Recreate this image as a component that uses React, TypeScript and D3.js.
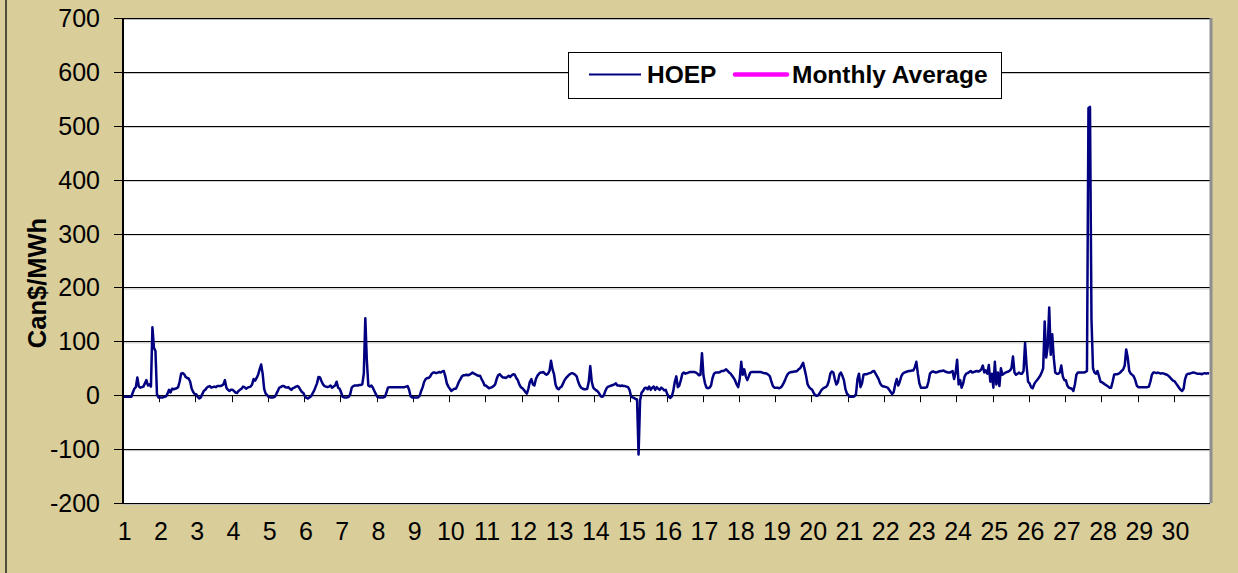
import React from "react";
import * as d3 from "d3";

// hourly HOEP, Can$/MWh, one array per day (24 hours each)
const hoepDay01 = [-3, -3, -3, -3, -3, -3, 5, 12, 15, 33, 16, 14, 15, 16, 22, 28, 18, 20, 16, 126, 88, 82, 2, -4];
const hoepDay02 = [-4, -4, -4, -3, -2, 3, 10, 5, 12, 11, 12, 13, 15, 25, 40, 41, 39, 34, 32, 31, 25, 12, 6, 2];
const hoepDay03 = [2, -3, -6, -4, 2, 8, 10, 14, 16, 17, 14, 15, 16, 15, 17, 17, 17, 18, 20, 28, 14, 10, 8, 10];
const hoepDay04 = [10, 8, 5, 4, 8, 10, 12, 16, 15, 12, 14, 15, 16, 20, 30, 27, 32, 38, 48, 57, 40, 12, 3, 0];
const hoepDay05 = [-3, -4, -4, -4, -3, 2, 8, 14, 15, 17, 17, 15, 14, 15, 12, 10, 13, 14, 16, 17, 15, 10, 6, 4];
const hoepDay06 = [-2, -5, -6, -4, -2, 3, 8, 15, 22, 34, 33, 26, 20, 17, 16, 15, 16, 18, 14, 16, 18, 25, 14, 12];
const hoepDay07 = [5, -3, -4, -4, -4, -3, 2, 14, 17, 18, 18, 18, 19, 19, 20, 40, 143, 65, 18, 16, 18, 14, 8, 2];
const hoepDay08 = [-3, -4, -4, -4, -4, -3, 5, 14, 15, 15, 15, 15, 15, 15, 15, 15, 15, 15, 15, 16, 17, 10, -2, -4];
const hoepDay09 = [-4, -4, -4, -4, -1, 8, 15, 25, 30, 32, 32, 35, 40, 42, 42, 41, 42, 43, 42, 44, 45, 35, 22, 16];
const hoepDay10 = [12, 8, 10, 12, 12, 18, 25, 30, 35, 37, 37, 38, 37, 38, 40, 42, 40, 39, 37, 36, 36, 30, 25, 18];
const hoepDay11 = [18, 15, 13, 14, 15, 17, 20, 30, 37, 39, 36, 33, 33, 32, 34, 36, 34, 37, 39, 38, 32, 28, 20, 15];
const hoepDay12 = [13, 10, 6, 3, 12, 25, 30, 20, 18, 30, 36, 40, 42, 42, 43, 40, 38, 40, 45, 64, 48, 39, 20, 13];
const hoepDay13 = [11, 14, 16, 22, 28, 32, 35, 38, 40, 41, 40, 38, 35, 25, 18, 14, 12, 11, 11, 12, 25, 54, 25, 14];
const hoepDay14 = [11, 9, 7, 3, -2, -3, 0, 8, 14, 16, 17, 18, 19, 20, 22, 18, 18, 17, 18, 17, 17, 16, 15, 10];
const hoepDay15 = [-2, -4, -5, -7, -8, -110, -10, 5, 8, 13, 14, 11, 16, 10, 14, 16, 10, 15, 12, 10, 14, 12, 9, 10];
const hoepDay16 = [2, -3, -5, -2, 8, 25, 35, 15, 18, 28, 40, 42, 40, 41, 42, 43, 43, 43, 43, 42, 40, 37, 38, 78];
const hoepDay17 = [36, 22, 14, 13, 14, 18, 32, 40, 42, 42, 42, 43, 45, 45, 46, 48, 45, 42, 40, 36, 32, 27, 20, 15];
const hoepDay18 = [30, 62, 38, 48, 35, 28, 35, 42, 43, 43, 43, 43, 43, 43, 43, 42, 41, 41, 40, 38, 35, 25, 17, 14];
const hoepDay19 = [14, 14, 13, 14, 17, 22, 28, 35, 40, 42, 43, 43, 44, 44, 45, 48, 50, 55, 60, 48, 35, 20, 15, 12];
const hoepDay20 = [10, 4, 0, -1, 0, 4, 9, 12, 14, 15, 18, 26, 40, 44, 42, 30, 20, 24, 38, 42, 36, 28, 12, 3];
const hoepDay21 = [0, -3, -3, -3, -2, 2, 30, 40, 15, 22, 38, 39, 39, 40, 41, 42, 44, 45, 40, 35, 30, 22, 18, 16];
const hoepDay22 = [16, 15, 14, 10, 6, 2, 6, 20, 30, 18, 25, 35, 40, 42, 43, 44, 45, 45, 46, 46, 52, 62, 40, 22];
const hoepDay23 = [14, 14, 14, 14, 15, 25, 40, 43, 44, 43, 42, 43, 44, 45, 45, 46, 44, 43, 42, 42, 43, 45, 30, 42];
const hoepDay24 = [66, 20, 28, 14, 22, 35, 40, 41, 43, 45, 42, 43, 44, 45, 44, 45, 48, 55, 42, 46, 40, 56, 25, 40];
const hoepDay25 = [14, 62, 20, 42, 17, 50, 38, 40, 42, 43, 44, 46, 50, 72, 42, 38, 40, 42, 40, 40, 45, 97, 55, 25];
const hoepDay26 = [22, 15, 13, 20, 25, 28, 32, 36, 42, 50, 137, 70, 90, 163, 75, 113, 70, 42, 40, 40, 42, 55, 35, 28];
const hoepDay27 = [28, 18, 14, 13, 12, 8, 20, 38, 42, 42, 42, 42, 42, 43, 45, 533, 535, 140, 50, 42, 40, 45, 35, 25];
const hoepDay28 = [24, 22, 20, 18, 16, 14, 14, 25, 38, 39, 39, 40, 42, 45, 48, 55, 85, 70, 45, 40, 38, 35, 28, 18];
const hoepDay29 = [15, 15, 15, 15, 15, 15, 15, 16, 25, 38, 42, 42, 41, 42, 41, 40, 41, 40, 39, 38, 36, 33, 30, 27];
const hoepDay30 = [26, 22, 18, 14, 10, 8, 12, 30, 38, 40, 40, 41, 42, 42, 41, 40, 40, 40, 39, 40, 41, 40, 41, 40];

const dayLabels = ["1", "2", "3", "4", "5", "6", "7", "8", "9", "10", "11", "12", "13", "14", "15",
  "16", "17", "18", "19", "20", "21", "22", "23", "24", "25", "26", "27", "28", "29", "30"];
const yTicks = [-200, -100, 0, 100, 200, 300, 400, 500, 600, 700];
const seriesNames = ["HOEP", "Monthly Average"];
const seriesColors = ["#000080", "#FF00FF"];

const W = 1238;
const H = 573;
const margin = { top: 18, right: 28, bottom: 70, left: 123 };
const font = "'Liberation Sans', Arial, sans-serif";

const App = () => {
  const hoep = [
    hoepDay01, hoepDay02, hoepDay03, hoepDay04, hoepDay05, hoepDay06, hoepDay07, hoepDay08, hoepDay09, hoepDay10,
    hoepDay11, hoepDay12, hoepDay13, hoepDay14, hoepDay15, hoepDay16, hoepDay17, hoepDay18, hoepDay19, hoepDay20,
    hoepDay21, hoepDay22, hoepDay23, hoepDay24, hoepDay25, hoepDay26, hoepDay27, hoepDay28, hoepDay29, hoepDay30,
  ].flat();
  const hoursPerDay = 24;

  const x = d3
    .scaleBand<number>()
    .domain(d3.range(hoep.length))
    .range([margin.left, W - margin.right]);
  const y = d3.scaleLinear().domain([-200, 700]).range([H - margin.bottom, margin.top]);
  const cx = (i: number) => (x(i) as number) + x.bandwidth() / 2;

  const line = d3
    .line<number>()
    .x((d, i) => cx(i))
    .y((d) => y(d));

  const left = margin.left;
  const right = W - margin.right;
  const top = margin.top;
  const bottom = H - margin.bottom;

  return (
    <svg width={W} height={H} style={{ position: "absolute", left: 0, top: 0, fontFamily: font }}>
      <rect x={0} y={0} width={W} height={H} fill="#D9CD99" />
      <line x1={6} x2={6} y1={0} y2={H} stroke="#222" strokeWidth={1.5} />
      <rect x={left} y={top} width={right - left} height={bottom - top} fill="#fff" />

      {/* gridlines + y ticks */}
      {yTicks.map((t) => (
        <g key={t}>
          <line x1={left} x2={right} y1={y(t) + 1.5} y2={y(t) + 1.5} stroke="#bdbdbd" strokeWidth={1} />
          <line x1={left - 9} x2={right} y1={Math.round(y(t)) + 0.5} y2={Math.round(y(t)) + 0.5} stroke="#000" strokeWidth={1} />
          <text x={100} y={y(t)} dy="0.36em" textAnchor="end" fontSize={25} fill="#000">
            {t}
          </text>
        </g>
      ))}

      {/* x axis ticks on the zero line */}
      {dayLabels.map((lab, k) => (
        <g key={lab}>
          {k > 0 && (
            <line
              x1={Math.round(x(k * hoursPerDay) as number) + 0.5}
              x2={Math.round(x(k * hoursPerDay) as number) + 0.5}
              y1={y(0)}
              y2={y(0) + 7}
              stroke="#000"
              strokeWidth={1}
            />
          )}
          <text x={cx(k * hoursPerDay) + 1} y={540} textAnchor="middle" fontSize={25} fill="#000">
            {lab}
          </text>
        </g>
      ))}

      <path d={line(hoep) || ""} fill="none" stroke={seriesColors[0]} strokeWidth={2.5} strokeLinejoin="round" />

      <line x1={left} x2={left} y1={top} y2={bottom} stroke="#000" strokeWidth={2} />
      <line x1={right + 1} x2={right + 1} y1={top} y2={bottom} stroke="#8e8e8e" strokeWidth={3} />

      <text
        transform={`translate(37, 283) rotate(-90)`}
        textAnchor="middle"
        dy="0.36em"
        fontSize={25.5}
        fontWeight="bold"
        fill="#000"
      >
        Can$/MWh
      </text>

      {/* legend */}
      <g>
        <rect x={568.5} y={52.5} width={433} height={46} fill="#fff" stroke="#000" strokeWidth={1} />
        <line x1={589} x2={641} y1={74.5} y2={74.5} stroke={seriesColors[0]} strokeWidth={2} />
        <text x={647} y={83} fontSize={24.5} fontWeight="bold" fill="#000">
          {seriesNames[0]}
        </text>
        <line x1={735} x2={787} y1={74.5} y2={74.5} stroke={seriesColors[1]} strokeWidth={4.5} strokeLinecap="round" />
        <text x={792} y={83} fontSize={24.5} fontWeight="bold" fill="#000">
          {seriesNames[1]}
        </text>
      </g>
    </svg>
  );
};

export default App;
